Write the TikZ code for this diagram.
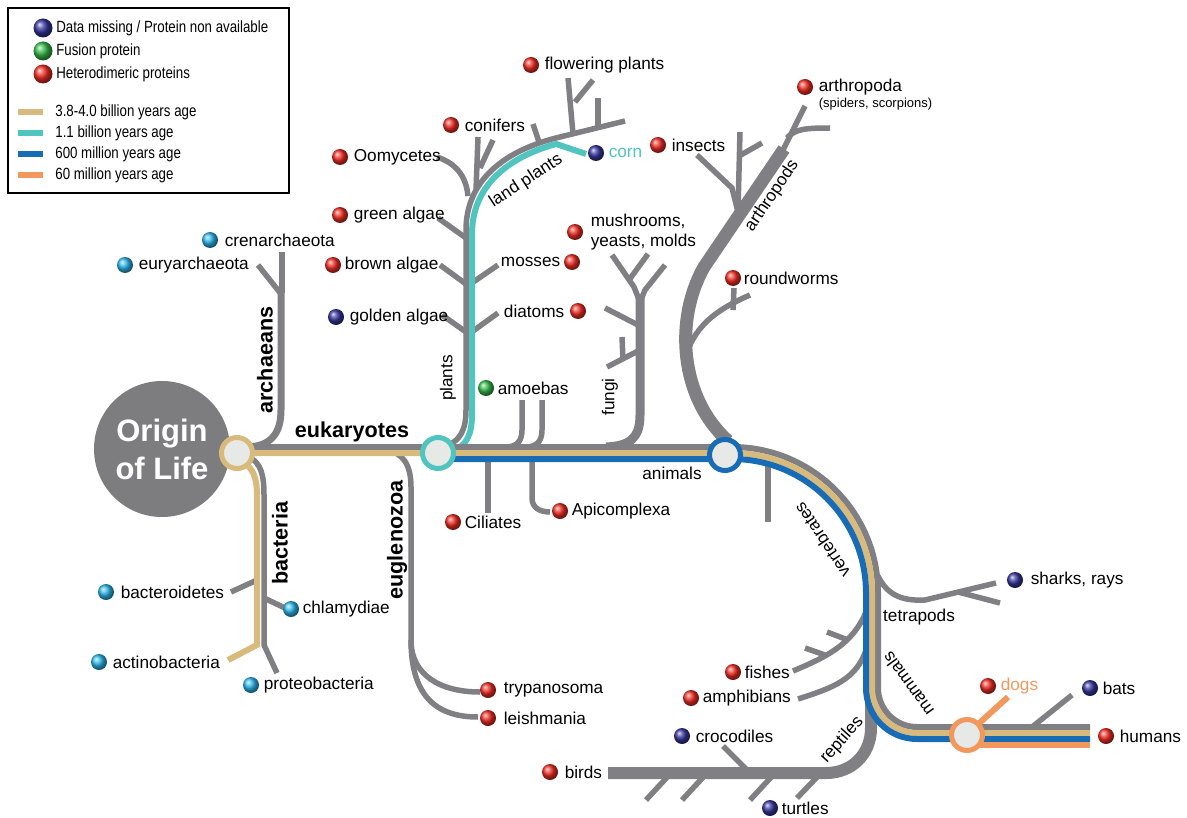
\documentclass[tikz,border=0pt]{standalone}
\usepackage{fontspec}
\setmainfont{Liberation Sans}
\newfontfamily\legendfont{Liberation Sans}[FakeStretch=0.82]
\usetikzlibrary{positioning}
\definecolor{branchgray}{RGB}{128,128,132}
\definecolor{origingray}{RGB}{125,125,128}
\definecolor{agetan}{RGB}{216,186,124}
\definecolor{ageteal}{RGB}{80,196,190}
\definecolor{ageblue}{RGB}{24,108,182}
\definecolor{ageorange}{RGB}{242,152,92}
\definecolor{hubfill}{RGB}{230,233,230}
\definecolor{ballred}{RGB}{245,45,35}
\definecolor{ballnavy}{RGB}{55,55,160}
\definecolor{ballsky}{RGB}{45,185,240}
\definecolor{ballgreen}{RGB}{55,190,75}
\begin{document}
\begin{tikzpicture}[x=0.5pt, y=-0.5pt,
  branch/.style={draw=branchgray, line width=2.75pt},
  ageline/.style={line width=3pt},
  hub/.style={circle, fill=hubfill, line width=2.5pt, minimum size=15.5pt, inner sep=0pt},
  sphere/.style={circle, inner sep=0pt, minimum size=8pt},
  redb/.style={sphere, ball color=ballred},
  navyb/.style={sphere, ball color=ballnavy},
  skyb/.style={sphere, ball color=ballsky},
  greenb/.style={sphere, ball color=ballgreen},
  lbl/.style={font=\fontsize{8.6}{10}\selectfont, inner sep=0.5pt},
  grouplbl/.style={font=\fontsize{10.8}{12}\selectfont\bfseries, inner sep=0.5pt},
  keytext/.style={font=\legendfont\fontsize{8.1}{9}\selectfont, inner sep=0.5pt, anchor=west}]
\useasboundingbox (0,0) rectangle (1187,818);

\node[draw=black, line width=1pt, minimum width=140.5pt, minimum height=92.5pt, inner sep=0pt] (legend) at (148.5,100.5) {};
\node[sphere, minimum size=9.5pt, ball color=ballnavy] (keymissing) at (43,28) {};
\node[keytext, right=1pt of keymissing] (keymissingtext) {Data missing / Protein non available};
\node[sphere, minimum size=9.5pt, ball color=ballgreen] (keyfusion) at (43,51) {};
\node[keytext, right=1pt of keyfusion] (keyfusiontext) {Fusion protein};
\node[sphere, minimum size=9.5pt, ball color=ballred] (keyhetero) at (43,74) {};
\node[keytext, right=1pt of keyhetero] (keyheterotext) {Heterodimeric proteins};
\draw[ageline, agetan] (18,112) -- (43,112);
\node[keytext] (keytan) at (54,112) {3.8-4.0 billion years age};
\draw[ageline, ageteal] (18,133) -- (43,133);
\node[keytext] (keyteal) at (54,133) {1.1 billion years age};
\draw[ageline, ageblue] (18,154) -- (43,154);
\node[keytext] (keyblue) at (54,154) {600 million years age};
\draw[ageline, ageorange] (18,175) -- (43,175);
\node[keytext] (keyorange) at (54,175) {60 million years age};

\node[circle, fill=origingray, minimum size=68pt, inner sep=0pt, text=white, align=center, font=\fontsize{15.5}{19}\selectfont\bfseries] (origin) at (162,449) {Origin\\of Life};

\draw[branch, line width=3.5pt] (248,447) .. controls (272,446) and (281,432) .. (281,410) -- (281,290);
\draw[branch] (282,293) -- (282,252);
\draw[branch] (281,294) -- (258,265);
\draw[branch] (249,457) .. controls (261,463) and (264,475) .. (264,495) -- (264,645) -- (277,673);
\draw[branch] (231,592) -- (257,580);
\draw[branch] (264,598) -- (285,608);
\draw[branch] (385,450) .. controls (403,452) and (411,465) .. (411,487) -- (411,640) .. controls (411,675) and (440,692) .. (480,692);
\draw[branch] (411,640) .. controls (411,700) and (440,717) .. (478,717);

\draw[branch] (446,446) .. controls (460,441) and (466,430) .. (466,410) -- (466,230) .. controls (466,180) and (505,150) .. (560,137) -- (625,121);
\draw[branch] (437,157) .. controls (455,163) and (466,175) .. (468,196);
\draw[branch] (478,137) -- (476,190);
\draw[branch] (493,140) -- (480,168);
\draw[branch] (533,124) -- (540,145);
\draw[branch] (568,78) -- (573,134);
\draw[branch] (575,102) -- (593,80);
\draw[branch] (598,98) -- (598,126);
\draw[branch] (438,218) -- (466,238);
\draw[branch] (440,265) -- (466,284);
\draw[branch] (442,315) -- (466,332);
\draw[branch] (466,287) -- (498,265);
\draw[branch] (466,336) -- (498,313);
\draw[ageline, ageteal] (452,451) .. controls (467,446) and (472,434) .. (472,414) -- (472,234) .. controls (472,186) and (508,157) .. (556,144) -- (586,154);

\draw[branch] (522,400) -- (522,430) .. controls (522,442) and (516,447) .. (505,447);
\draw[branch] (542,400) -- (542,430) .. controls (542,442) and (536,447) .. (525,447);
\draw[branch] (488,455) -- (488,513);
\draw[branch] (532,455) -- (532,498) .. controls (532,508) and (540,512) .. (550,512);

\draw[branch, line width=4.5pt] (606,447) .. controls (630,446) and (640,438) .. (640,415) -- (640,298);
\draw[branch] (640,302) -- (634,287) -- (612,255);
\draw[branch] (629,280) -- (648,254);
\draw[branch] (640,302) -- (645,290) -- (665,265);
\draw[branch] (605,308) -- (640,326);
\draw[branch] (607,367) -- (640,350);
\draw[branch] (622,337) -- (623,360);

\draw[branch, line width=6.5pt] (728,441) .. controls (680,398) and (674,320) .. (704,267) -- (784,149);
\draw[branch] (781,154) -- (805,106);
\draw[branch] (787,138) .. controls (795,129) and (805,128) .. (830,128);
\draw[branch] (738,210) -- (740,132);
\draw[branch] (739,156) -- (762,143);
\draw[branch] (697,155) -- (732,188) -- (738,212);
\draw[branch] (689,347) .. controls (700,322) and (720,308) .. (750,295);
\draw[branch] (734,288) -- (733,310);
\draw[branch] (768,462) -- (768,522);

\draw[branch] (878,576) .. controls (888,597) and (905,601) .. (925,600) -- (996,583);
\draw[branch] (958,592) -- (1000,603);
\draw[branch] (866,612) .. controls (852,645) and (826,657) .. (793,671);
\draw[branch] (827,632) -- (848,640);
\draw[branch] (805,648) -- (825,655);
\draw[branch] (866,650) .. controls (856,680) and (832,688) .. (798,699);
\draw[branch, line width=6pt] (871,690) -- (871,728) .. controls (871,754) and (852,773) .. (826,773) -- (608,773);
\draw[branch] (723,746) -- (750,773);
\draw[branch] (646,800) -- (671,773);
\draw[branch] (682,800) -- (707,773);
\draw[branch] (750,800) -- (775,773);
\draw[branch] (797,798) -- (821,773);
\draw[branch] (1032,727) -- (1072,695);

\draw[branch, line width=3pt] (237,447) -- (732,447) .. controls (812.6,447) and (878,512.4) .. (878,593) -- (878,688) .. controls (878,709.5) and (895.5,727) .. (917,727) -- (1090,727);
\draw[ageline, agetan] (237,453) -- (732,453) .. controls (809.3,453) and (872,515.7) .. (872,593) -- (872,688) .. controls (872,712.9) and (892.1,733) .. (917,733) -- (1090,733);
\draw[ageline, agetan] (243,462) .. controls (253,468) and (257,478) .. (257,495) -- (257,645) -- (228,660);
\draw[ageline, ageblue] (438,459) -- (732,459) .. controls (806,459) and (866,519) .. (866,593) -- (866,688) .. controls (866,716.2) and (888.8,739) .. (917,739) -- (1090,739);
\draw[ageline, ageorange] (967,745) -- (1090,745);
\draw[ageline, ageorange] (975,727) -- (1008,697);

\node[hub, draw=agetan] (originhub) at (237,453) {};
\node[hub, draw=ageteal] (eukhub) at (438,453) {};
\node[hub, draw=ageblue] (animalhub) at (725,455) {};
\node[hub, draw=ageorange] (mammalhub) at (967,735) {};

\node[grouplbl, rotate=90] (archaeans) at (265,360) {archaeans};
\node[grouplbl] (eukaryotes) at (352,432) {eukaryotes};
\node[grouplbl, rotate=90] (bacteria) at (280,543) {bacteria};
\node[grouplbl, rotate=90] (euglenozoa) at (397,540) {euglenozoa};
\node[lbl, rotate=90] (plants) at (448,378) {plants};
\node[lbl, rotate=90] (fungi) at (610,397) {fungi};
\node[lbl] (animals) at (672,473) {animals};
\node[lbl, rotate=33] (landplants) at (526,181) {land plants};
\node[lbl, rotate=56] (arthropods) at (772,196) {arthropods};
\node[lbl, rotate=124] (vertebrates) at (822,540) {vertebrates};
\node[lbl] (tetrapods) at (919,617) {tetrapods};
\node[lbl, rotate=126] (mammals) at (908,684) {mammals};
\node[lbl, rotate=48] (reptiles) at (842,740) {reptiles};

\node[redb] (floweringb) at (531,65) {};
\node[lbl, right=2pt of floweringb] (flowering) {flowering plants};
\node[redb] (conifersb) at (451,125) {};
\node[lbl, right=2pt of conifersb] (conifers) {conifers};
\node[redb] (oomycetesb) at (340,157) {};
\node[lbl, right=2pt of oomycetesb] (oomycetes) {Oomycetes};
\node[navyb] (cornb) at (596,153) {};
\node[lbl, text=ageteal, right=1.5pt of cornb] (corn) {corn};
\node[redb] (insectsb) at (658,145) {};
\node[lbl, right=2pt of insectsb] (insects) {insects};
\node[redb] (arthropodab) at (805,87) {};
\node[lbl, right=2pt of arthropodab] (arthropoda) {arthropoda};
\node[font=\fontsize{6.5}{7}\selectfont, inner sep=0.5pt, anchor=north west] (spiders) at (arthropoda.south west) {(spiders, scorpions)};
\node[redb] (greenalgaeb) at (340,215) {};
\node[lbl, right=2pt of greenalgaeb] (greenalgae) {green algae};
\node[redb] (brownalgaeb) at (333,265) {};
\node[lbl, right=1pt of brownalgaeb] (brownalgae) {brown algae};
\node[navyb] (goldenalgaeb) at (336,317) {};
\node[lbl, right=2pt of goldenalgaeb] (goldenalgae) {golden algae};
\node[redb] (mossesb) at (572,262) {};
\node[lbl, left=1pt of mossesb] (mosses) {mosses};
\node[redb] (diatomsb) at (578,311) {};
\node[lbl, left=2pt of diatomsb] (diatoms) {diatoms};
\node[redb] (mushroomsb) at (575,232) {};
\node[lbl, align=left, right=3pt of mushroomsb] (mushrooms) {mushrooms,\\yeasts, molds};
\node[redb] (roundwormsb) at (733,278) {};
\node[lbl, right=0.5pt of roundwormsb] (roundworms) {roundworms};
\node[skyb] (crenb) at (210,240) {};
\node[lbl, right=2.5pt of crenb] (cren) {crenarchaeota};
\node[skyb] (euryb) at (125,265) {};
\node[lbl, right=2pt of euryb] (eury) {euryarchaeota};
\node[greenb] (amoebasb) at (486,388) {};
\node[lbl, right=1pt of amoebasb] (amoebas) {amoebas};
\node[redb] (ciliatesb) at (453,522) {};
\node[lbl, right=1pt of ciliatesb] (ciliates) {Ciliates};
\node[redb] (apicomplexab) at (560,511) {};
\node[lbl, right=1pt of apicomplexab] (apicomplexa) {Apicomplexa};
\node[skyb] (bacteroidetesb) at (106,592) {};
\node[lbl, right=2.5pt of bacteroidetesb] (bacteroidetes) {bacteroidetes};
\node[skyb] (chlamydiaeb) at (291,609) {};
\node[lbl, right=1pt of chlamydiaeb] (chlamydiae) {chlamydiae};
\node[skyb] (actinob) at (99,662) {};
\node[lbl, right=2pt of actinob] (actino) {actinobacteria};
\node[skyb] (proteob) at (251,685) {};
\node[lbl, right=1.5pt of proteob] (proteo) {proteobacteria};
\node[redb] (trypanob) at (488,690) {};
\node[lbl, right=3pt of trypanob] (trypano) {trypanosoma};
\node[redb] (leishb) at (488,718) {};
\node[lbl, right=3pt of leishb] (leish) {leishmania};
\node[navyb] (sharksb) at (1015,580) {};
\node[lbl, right=3pt of sharksb] (sharks) {sharks, rays};
\node[redb] (fishesb) at (733,672) {};
\node[lbl, right=1pt of fishesb] (fishes) {fishes};
\node[redb] (amphibiansb) at (691,698) {};
\node[lbl, right=1pt of amphibiansb] (amphibians) {amphibians};
\node[redb] (dogsb) at (988,686) {};
\node[lbl, text=ageorange, right=1.5pt of dogsb] (dogs) {dogs};
\node[navyb] (batsb) at (1090,688) {};
\node[lbl, right=1.5pt of batsb] (bats) {bats};
\node[redb] (humansb) at (1106,736) {};
\node[lbl, right=2pt of humansb] (humans) {humans};
\node[navyb] (crocodilesb) at (682,736) {};
\node[lbl, right=2pt of crocodilesb] (crocodiles) {crocodiles};
\node[redb] (birdsb) at (550,772) {};
\node[lbl, right=2.5pt of birdsb] (birds) {birds};
\node[navyb] (turtlesb) at (770,808) {};
\node[lbl, right=1pt of turtlesb] (turtles) {turtles};
\end{tikzpicture}
\end{document}
